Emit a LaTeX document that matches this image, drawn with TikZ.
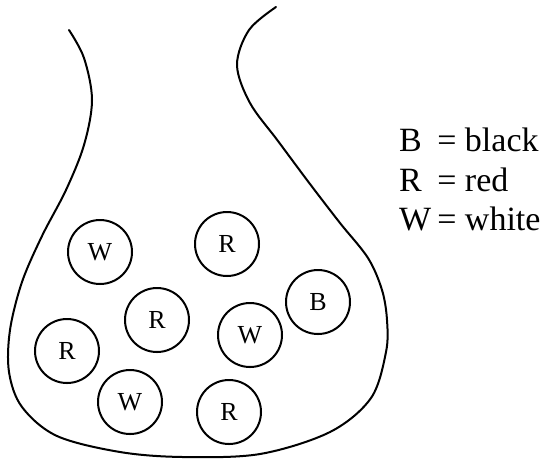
\documentclass[tikz,border=0pt]{standalone}
\usepackage{fontspec}
\setmainfont{Liberation Serif}
\usepackage{tikz}

\begin{document}
\begin{tikzpicture}[
    x=1pt, y=-1pt,
    outline/.style={line width=2pt, line cap=round, line join=round},
    ball/.style={circle, draw, line width=2pt, minimum size=64pt, inner sep=0pt, font=\fontsize{26}{26}\selectfont},
    legend/.style={font=\fontsize{34}{39.5}\selectfont, inner sep=0pt, anchor=north west}
]
    \useasboundingbox (0,0) rectangle (545,459);

    % Flask outline
    \draw[outline] plot[smooth, tension=0.55] coordinates {
        (69,30) (84,58) (92,100) (84,145) (66,190) (42,236) (22,282)
        (10,330) (9,372) (22,407) (57,436) (120,452) (183,457) (260,454)
        (330,432) (371,398) (386,352) (387,320) (382,290) (368,258)
        (340,223) (310,184) (278,141) (250,103) (237,65) (249,30) (276,7)};

    % Balls inside
    \node[ball] (w1) at (100,252) {W};
    \node[ball] (r1) at (227,244) {R};
    \node[ball] (b1) at (318,302) {B};
    \node[ball] (r2) at (157,320) {R};
    \node[ball] (w2) at (250,335) {W};
    \node[ball] (r3) at (67,351) {R};
    \node[ball] (w3) at (130,402) {W};
    \node[ball] (r4) at (229,412) {R};

    % Colour key
    \node[legend] (key) at (399,124) {%
        \begin{tabular}{@{}l@{\hspace{6pt}}l@{}}
            B & = black\\
            R & = red\\
            W & = white
        \end{tabular}};
\end{tikzpicture}
\end{document}
